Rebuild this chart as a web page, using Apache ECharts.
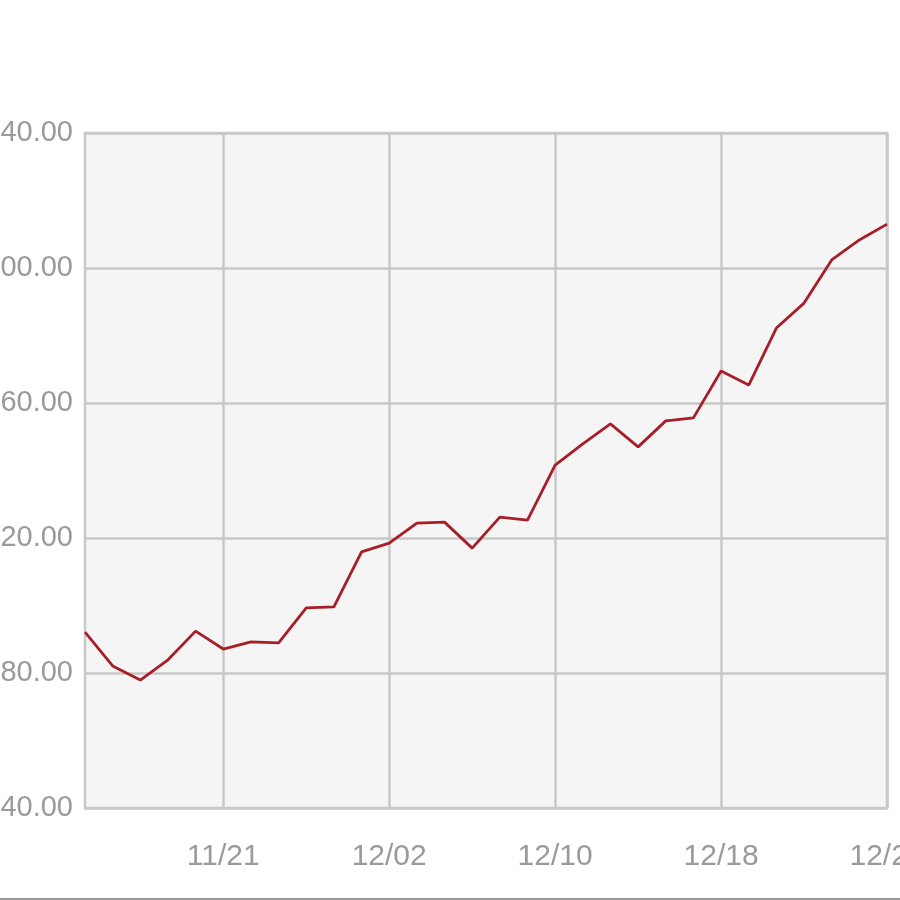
<!DOCTYPE html>
<html>
<head>
<meta charset="utf-8">
<script src="https://cdn.jsdelivr.net/npm/echarts@6/dist/echarts.min.js"></script>
<style>
html,body{margin:0;padding:0;background:#fff;}
#chart{width:900px;height:900px;}
</style>
</head>
<body>
<div id="chart"></div>
<script>
const dates = ['11/14','11/15','11/18','11/19','11/20','11/21','11/22','11/25','11/26','11/27',
  '11/29','12/02','12/03','12/04','12/05','12/06','12/09','12/10','12/11','12/12',
  '12/13','12/16','12/17','12/18','12/19','12/20','12/23','12/24','12/26','12/27'];
const prices = [92.1, 82.1, 77.9, 83.9, 92.4, 87.1, 89.2, 88.9, 99.3, 99.6,
  115.9, 118.5, 124.4, 124.7, 117.0, 126.2, 125.3, 141.6, 147.9, 153.8,
  147.0, 154.7, 155.6, 169.5, 165.3, 182.2, 189.6, 202.4, 208.3, 213.0];
const yMin = 40, yMax = 240, yStep = 40;
const labelEvery = 6, labelOffset = 5;

const chart = echarts.init(document.getElementById('chart'), null, {renderer: 'canvas'});
const showIdx = (i) => i >= labelOffset && (i - labelOffset) % labelEvery === 0;
chart.setOption({
  animation: false,
  grid: {left: 85, top: 133, width: 802, height: 675, show: true,
    containLabel: false, outerBoundsMode: 'none',
    backgroundColor: '#f5f5f5', borderColor: '#c8c8c8', borderWidth: 2.5},
  xAxis: {
    type: 'category', data: dates, boundaryGap: false,
    axisLine: {show: false}, axisTick: {show: false},
    axisLabel: {interval: (i) => showIdx(i), color: '#9a9a9a', fontSize: 30,
      fontFamily: 'Liberation Sans, Arial, sans-serif', margin: 34,
      hideOverlap: false},
    splitLine: {show: true, interval: (i) => showIdx(i), lineStyle: {color: '#c8c8c8', width: 2.5}}
  },
  yAxis: {
    type: 'value', min: yMin, max: yMax, interval: yStep,
    axisLine: {show: false}, axisTick: {show: false},
    axisLabel: {formatter: (v) => v.toFixed(2), color: '#9a9a9a', fontSize: 29,
      fontFamily: 'Liberation Sans, Arial, sans-serif', margin: 12},
    splitLine: {show: true, lineStyle: {color: '#c8c8c8', width: 2.5}}
  },
  series: [{
    type: 'line', data: prices, symbol: 'none',
    lineStyle: {color: '#a81e28', width: 2.8}
  }],
  graphic: [{
    type: 'line', shape: {x1: 0, y1: 899, x2: 900, y2: 899},
    style: {stroke: '#999999', lineWidth: 2}
  }]
});
</script>
</body>
</html>
